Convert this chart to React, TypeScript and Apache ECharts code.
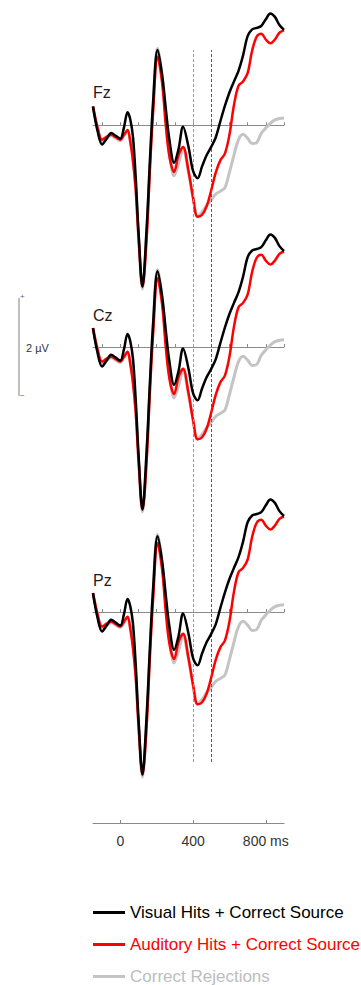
import React, { useEffect, useRef } from "react";
import * as echarts from "echarts";

// Electrode sites, one panel each
const electrodes = ["Fz", "Cz", "Pz"];

// Conditions shown in every panel
const conditions = [
  "Visual Hits + Correct Source",
  "Auditory Hits + Correct Source",
  "Correct Rejections",
];
const lineColors = ["#000000", "#ff0000", "#c4c4c4"];
const legendTextColors = ["#000000", "#ff0000", "#bdbdbd"];

// Sample times (ms relative to stimulus onset)
const timesMs = [
  -150, -125, -100, -75, -50, -25, 0, 20, 40, 55, 70, 85, 100, 122, 144, 163,
  180, 205, 230, 250, 270, 296, 320, 345, 375, 400, 425, 450, 475, 500, 525,
  550, 575, 600, 625, 650, 675, 700, 725, 750, 775, 800, 825, 850, 875, 900,
];

// Grand-average amplitudes (µV)
const visualHits = [
  0.39, -0.12, -0.4, -0.28, -0.16, -0.22, -0.28, -0.05, 0.27, 0.12, -0.25,
  -1.1, -2.2, -3.35, -2.2, -0.74, 0.45, 1.56, 1.05, 0.35, -0.3, -0.78, -0.5,
  -0.03, -0.45, -0.95, -1.1, -0.85, -0.62, -0.45, -0.25, 0.08, 0.4, 0.68,
  0.91, 1.13, 1.45, 1.85, 1.99, 2.02, 2.06, 2.2, 2.32, 2.25, 2.08, 1.98,
];
const auditoryHits = [
  0.39, -0.05, -0.3, -0.24, -0.2, -0.25, -0.3, -0.2, -0.1, -0.35, -0.75,
  -1.35, -2.3, -3.35, -2.4, -0.9, 0.25, 1.42, 0.88, 0.0, -0.65, -0.97, -0.62,
  -0.45, -0.95, -1.5, -1.9, -1.86, -1.68, -1.35, -0.98, -0.73, -0.59, -0.2,
  0.42, 0.82, 0.91, 1.08, 1.55, 1.84, 1.9, 1.78, 1.7, 1.78, 1.92, 1.97,
];
const correctRejections = [
  0.39, -0.05, -0.33, -0.28, -0.22, -0.27, -0.32, -0.22, -0.15, -0.3, -0.7,
  -1.3, -2.3, -3.4, -2.3, -0.8, 0.4, 1.6, 1.0, 0.2, -0.55, -1.05, -0.8, -0.5,
  -0.98, -1.5, -1.9, -1.8, -1.66, -1.55, -1.43, -1.37, -1.3, -0.98, -0.62,
  -0.3, -0.19, -0.27, -0.38, -0.36, -0.17, -0.06, 0.04, 0.11, 0.14, 0.15,
];
const waveforms = [visualHits, auditoryHits, correctRejections];

// Axis ticks
const baselineTicks = [-100, 0, 100, 200, 300, 400, 500, 600, 700, 800, 900];
const timeAxisTicks = [0, 400, 800];
// Analysis window boundaries (ms)
const windowBounds = [400, 500];

// Layout
const X_MIN = -150;
const X_MAX = 900;
const PLOT_LEFT = 93;
const PLOT_WIDTH = 191;
const PX_PER_UV = 48.5;
const Y_MAX = 2.6;
const Y_MIN = -3.6;
const baselineY = [124, 347, 612];
const FONT = "'Liberation Sans', Arial, Helvetica, sans-serif";

export default function App() {
  const ref = useRef<HTMLDivElement>(null);

  useEffect(() => {
    document.body.style.margin = "0";
    if (!ref.current) return;
    const chart = echarts.init(ref.current, undefined, { renderer: "svg" });

    const grids: any[] = [];
    const xAxes: any[] = [];
    const yAxes: any[] = [];
    const series: any[] = [];

    const hiddenX = (gridIndex: number) => ({
      type: "value",
      gridIndex,
      min: X_MIN,
      max: X_MAX,
      axisLine: { show: false },
      axisTick: { show: false },
      axisLabel: { show: false },
      splitLine: { show: false },
    });
    const hiddenY = (gridIndex: number, min: number, max: number) => ({
      type: "value",
      gridIndex,
      min,
      max,
      axisLine: { show: false },
      axisTick: { show: false },
      axisLabel: { show: false },
      splitLine: { show: false },
    });

    // Electrode panels
    electrodes.forEach((_, i) => {
      grids.push({
        left: PLOT_LEFT,
        width: PLOT_WIDTH,
        top: baselineY[i] - Y_MAX * PX_PER_UV,
        height: (Y_MAX - Y_MIN) * PX_PER_UV,
      });
      xAxes.push({
        type: "value",
        gridIndex: i,
        min: X_MIN,
        max: X_MAX,
        axisLine: { show: true, onZero: true, lineStyle: { color: "#8a8a8a", width: 1 } },
        axisTick: {
          show: true,
          inside: true,
          length: 3,
          customValues: baselineTicks,
          lineStyle: { color: "#8a8a8a", width: 1 },
        },
        axisLabel: { show: false },
        splitLine: { show: false },
      });
      yAxes.push(hiddenY(i, Y_MIN, Y_MAX));
    });

    // Draw order: rejections underneath, then auditory, then visual on top
    const drawOrder = [2, 1, 0];
    electrodes.forEach((_, i) => {
      drawOrder.forEach((c, k) => {
        series.push({
          type: "line",
          name: conditions[c],
          xAxisIndex: i,
          yAxisIndex: i,
          data: timesMs.map((t, j) => [t, waveforms[c][j]]),
          symbol: "none",
          showSymbol: false,
          smooth: 0.35,
          silent: true,
          z: 3 + k,
          lineStyle: { color: lineColors[c], width: c === 2 ? 3 : 2.5 },
          itemStyle: { color: lineColors[c] },
        });
      });
    });

    // Overlay for the dashed window markers spanning all panels
    const overlayIdx = grids.length;
    grids.push({ left: PLOT_LEFT, width: PLOT_WIDTH, top: 50, height: 712 });
    xAxes.push(hiddenX(overlayIdx));
    yAxes.push(hiddenY(overlayIdx, 0, 1));
    series.push({
      type: "line",
      xAxisIndex: overlayIdx,
      yAxisIndex: overlayIdx,
      data: [],
      silent: true,
      markLine: {
        silent: true,
        symbol: "none",
        label: { show: false },
        data: windowBounds.map((v, k) => ({
          xAxis: v,
          lineStyle: {
            color: k === 0 ? "#9a9a9a" : "#5a5a5a",
            width: 1,
            type: [3, 2],
          },
        })),
      },
    });

    // Time axis at the bottom
    const timeIdx = grids.length;
    grids.push({ left: PLOT_LEFT, width: PLOT_WIDTH, top: 790, height: 33 });
    xAxes.push({
      type: "value",
      gridIndex: timeIdx,
      min: X_MIN,
      max: X_MAX,
      position: "bottom",
      axisLine: { show: true, onZero: false, lineStyle: { color: "#8a8a8a", width: 1 } },
      axisTick: {
        show: true,
        inside: true,
        length: 3,
        customValues: timeAxisTicks,
        lineStyle: { color: "#8a8a8a" },
      },
      axisLabel: {
        show: true,
        customValues: timeAxisTicks,
        margin: 11,
        fontSize: 14,
        fontFamily: FONT,
        color: "#333333",
        formatter: (v: number) => (v === 800 ? "800 ms" : String(v)),
      },
      splitLine: { show: false },
    });
    yAxes.push(hiddenY(timeIdx, 0, 1));
    series.push({
      type: "line",
      xAxisIndex: timeIdx,
      yAxisIndex: timeIdx,
      data: [],
      silent: true,
    });

    // Amplitude scale bar (±1 µV around the Cz baseline)
    const scaleIdx = grids.length;
    grids.push({
      left: 17,
      width: 10,
      top: baselineY[1] - PX_PER_UV,
      height: 2 * PX_PER_UV,
    });
    xAxes.push(hiddenX(scaleIdx));
    yAxes.push({
      type: "value",
      gridIndex: scaleIdx,
      min: -1,
      max: 1,
      axisLine: { show: true, lineStyle: { color: "#aaaaaa", width: 1.5 } },
      axisTick: { show: false },
      axisLabel: { show: false },
      splitLine: { show: false },
    });
    series.push({
      type: "line",
      xAxisIndex: scaleIdx,
      yAxisIndex: scaleIdx,
      data: [],
      silent: true,
    });

    const scaleTop = baselineY[1] - PX_PER_UV;
    const scaleBottom = baselineY[1] + PX_PER_UV;

    const graphic: any[] = [
      ...electrodes.map((name, i) => ({
        type: "text",
        left: 93,
        top: baselineY[i] - 40,
        silent: true,
        style: {
          text: name,
          fill: "#2a1a1a",
          font: `16px ${FONT}`,
        },
      })),
      {
        type: "text",
        x: 20,
        y: scaleTop - 2,
        silent: true,
        style: {
          text: "+",
          fill: "#666666",
          font: `8px ${FONT}`,
          verticalAlign: "middle",
        },
      },
      {
        type: "text",
        x: 20,
        y: scaleBottom,
        silent: true,
        style: {
          text: "−",
          fill: "#666666",
          font: `8px ${FONT}`,
          verticalAlign: "middle",
        },
      },
      {
        type: "text",
        x: 26,
        y: baselineY[1] + 1,
        silent: true,
        style: {
          text: "2 µV",
          fill: "#333333",
          font: `11px ${FONT}`,
          verticalAlign: "middle",
        },
      },
    ];

    chart.setOption({
      animation: false,
      grid: grids,
      xAxis: xAxes,
      yAxis: yAxes,
      series,
      graphic,
      legend: {
        orient: "vertical",
        left: 93,
        top: 904,
        height: 81,
        padding: 0,
        icon: "rect",
        itemWidth: 32,
        itemHeight: 3,
        itemGap: 15,
        selectedMode: false,
        textStyle: { fontSize: 17, fontFamily: FONT },
        data: conditions.map((name, c) => ({
          name,
          itemStyle: { color: lineColors[c] },
          textStyle: { color: legendTextColors[c], fontSize: 17, fontFamily: FONT },
        })),
      },
    });

    return () => chart.dispose();
  }, []);

  return <div ref={ref} style={{ width: 361, height: 985 }} />;
}
